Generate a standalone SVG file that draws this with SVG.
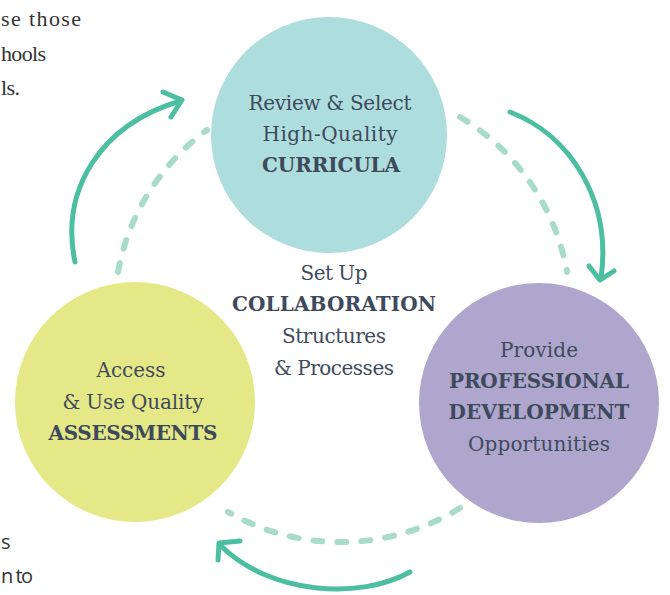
<svg xmlns="http://www.w3.org/2000/svg" width="670" height="595" viewBox="0 0 670 595">
<style>
.t{font-family:"DejaVu Serif","Liberation Serif",serif;font-size:20px;fill:#3e4a5c;text-anchor:middle}
.b{font-weight:bold}
.side{font-family:"Liberation Serif","DejaVu Serif",serif;font-size:22px;fill:#333}
.sans{font-family:"Open Sans","Liberation Sans",sans-serif;font-size:20px;fill:#333}
.dash{fill:none;stroke:#a8dcc9;stroke-width:6;stroke-linecap:round;stroke-dasharray:9 15}
.arr{fill:none;stroke:#4bbf9f;stroke-width:5;stroke-linecap:round;stroke-linejoin:round}
</style>
<rect width="670" height="595" fill="#fff"/>
<text class="side" x="1" y="26" textLength="80">se those</text>
<text class="side" x="1" y="61" textLength="45">hools</text>
<text class="side" x="1" y="95" textLength="19">ls.</text>
<text class="sans" x="1" y="549">s</text>
<text class="sans" x="1" y="583" textLength="32">n to</text>
<g id="connectors">
<path class="dash" d="M118,272 A226,226 0 0 1 207,130"/>
<path class="dash" d="M460,117 A226,226 0 0 1 567,272"/>
<path class="dash" d="M460,508 A226,226 0 0 1 228,512"/>
<path class="arr" d="M75,262 C60,190 100,125 180,101"/>
<path class="arr" d="M163,92 L182,100 L171,117"/>
<path class="arr" d="M510,112 C570,135 612,200 601,278"/>
<path class="arr" d="M589,266 L600,280 L614,271"/>
<path class="arr" d="M410,572 C360,600 270,595 220,545"/>
<path class="arr" d="M240,541 L219,543 L218,560"/>
</g>
<g id="center">
<text class="t" x="334" y="280" textLength="67">Set Up</text>
<text class="t b" x="334" y="311" textLength="204">COLLABORATION</text>
<text class="t" x="334" y="343" textLength="104">Structures</text>
<text class="t" x="334" y="375" textLength="120">&amp; Processes</text>
</g>
<g id="curricula">
<circle cx="329" cy="135" r="118" fill="#addddd"/>
<text class="t" x="330" y="110" textLength="163">Review &amp; Select</text>
<text class="t" x="330" y="141" textLength="135">High-Quality</text>
<text class="t b" x="331" y="172" textLength="138">CURRICULA</text>
</g>
<g id="assessments">
<circle cx="135" cy="402" r="120" fill="#e5e886"/>
<text class="t" x="131" y="377" textLength="69">Access</text>
<text class="t" x="133" y="409" textLength="141">&amp; Use Quality</text>
<text class="t b" x="133" y="440" textLength="169">ASSESSMENTS</text>
</g>
<g id="development">
<circle cx="539" cy="403" r="120" fill="#afa6ce"/>
<text class="t" x="539" y="357" textLength="78">Provide</text>
<text class="t b" x="539" y="388" textLength="180">PROFESSIONAL</text>
<text class="t b" x="539" y="419" textLength="181">DEVELOPMENT</text>
<text class="t" x="539" y="451" textLength="142">Opportunities</text>
</g>
</svg>
